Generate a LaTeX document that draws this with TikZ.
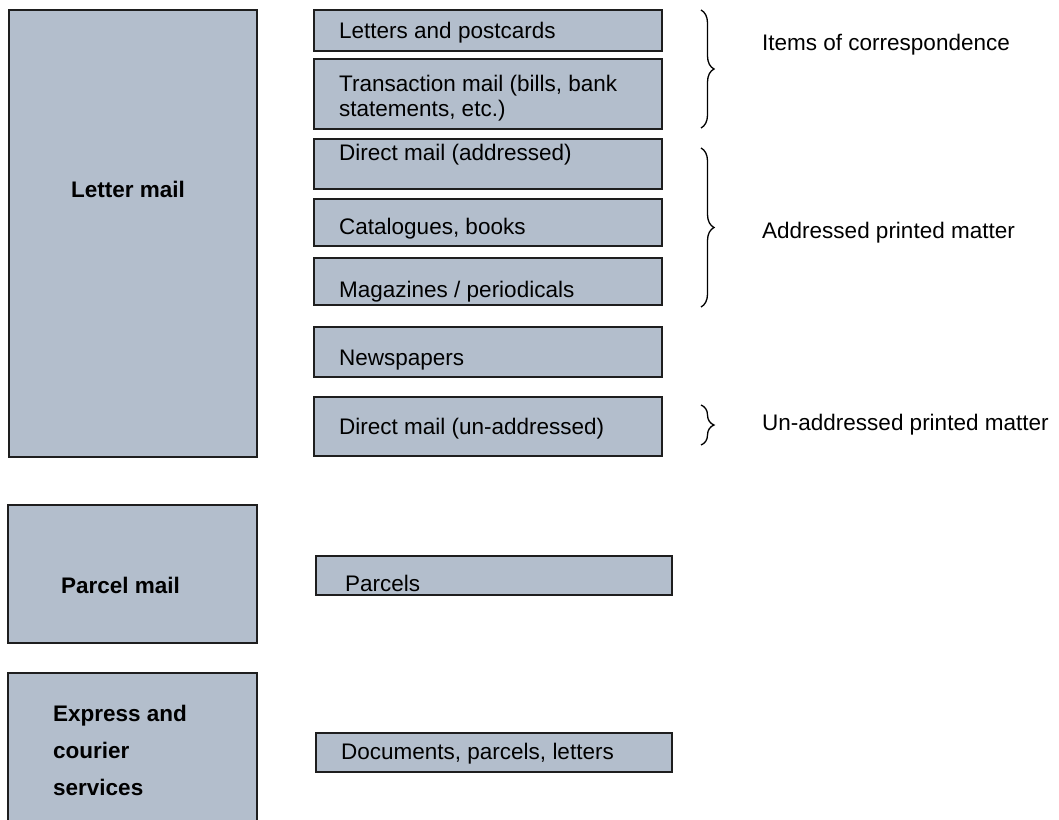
\documentclass[tikz,border=0pt]{standalone}
\usepackage{fontspec}
\setmainfont{Liberation Sans}
\usetikzlibrary{decorations.pathreplacing}
\definecolor{boxfill}{RGB}{179,190,204}
\definecolor{boxline}{RGB}{30,30,30}
\begin{document}
\begin{tikzpicture}[x=1pt,y=-1pt,
  box/.style={fill=boxfill,draw=boxline,line width=1.6pt},
  txt/.style={anchor=base west,inner sep=0pt,font=\fontsize{22.5}{25}\selectfont},
  btxt/.style={txt,font=\fontsize{22.5}{37}\selectfont\bfseries},
  curly/.style={decorate,decoration={brace,amplitude=13pt},line width=1.3pt}]
\useasboundingbox (0,0) rectangle (1059,819);
\clip (0,0) rectangle (1059,819);
% left category boxes
\draw[box] (9,10) rectangle (257,457);
\draw[box] (8,505) rectangle (257,643);
\draw[box] (8,673) rectangle (257,830);
\node[btxt] (lm) at (71,197) {Letter mail};
\node[btxt] (pm) at (61,593) {Parcel mail};
\node[btxt,align=left] (ex) at (53,795) {Express and\\courier\\services};
% item boxes
\draw[box] (314,10) rectangle (662,51);
\draw[box] (314,59) rectangle (662,129);
\draw[box] (314,139) rectangle (662,189);
\draw[box] (314,199) rectangle (662,246);
\draw[box] (314,258) rectangle (662,305);
\draw[box] (314,327) rectangle (662,377);
\draw[box] (314,397) rectangle (662,456);
\draw[box] (316,556) rectangle (672,595);
\draw[box] (316,733) rectangle (672,772);
\node[txt] (t1) at (339,38) {Letters and postcards};
\node[txt,align=left] (t2) at (339,116) {Transaction mail (bills, bank\\statements, etc.)};
\node[txt] (t3) at (339,160) {Direct mail (addressed)};
\node[txt] (t4) at (339,234) {Catalogues, books};
\node[txt] (t5) at (339,297) {Magazines / periodicals};
\node[txt] (t6) at (339,365) {Newspapers};
\node[txt] (t7) at (339,434) {Direct mail (un-addressed)};
\node[txt] (t8) at (345,591) {Parcels};
\node[txt] (t9) at (341,759) {Documents, parcels, letters};
% braces
\draw[curly] (701,10) -- (701,128);
\draw[curly] (701,148) -- (701,307);
\draw[curly] (701,405) -- (701,445);
\node[txt] (g1) at (762,50) {Items of correspondence};
\node[txt] (g2) at (762,238) {Addressed printed matter};
\node[txt] (g3) at (762,430) {Un-addressed printed matter};
\end{tikzpicture}
\end{document}
